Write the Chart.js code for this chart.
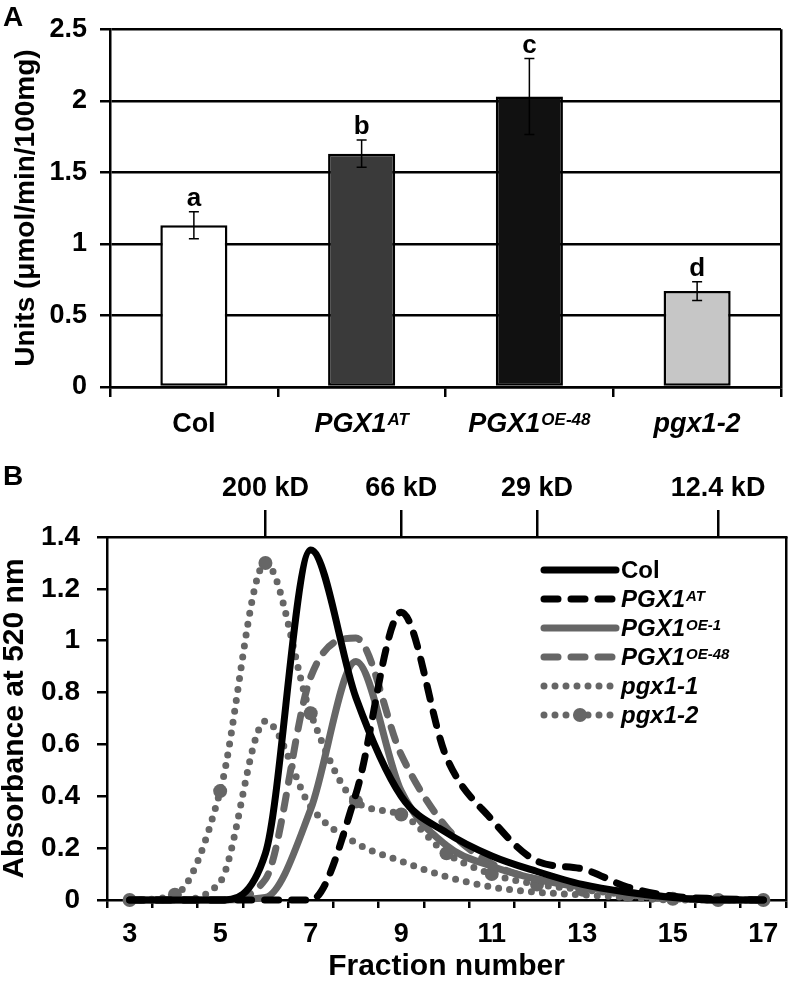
<!DOCTYPE html>
<html lang="en">
<head>
  <meta charset="UTF-8">
  <title>PGX1 activity and gel filtration</title>
  <script src="https://cdn.jsdelivr.net/npm/chart.js@4.4.0/dist/chart.umd.min.js"></script>
  <style>
    body { margin: 0; background: #fff; }
    canvas { position: absolute; left: 0; }
    #barChart { top: 0; }
    #lineChart { top: 450px; }
  </style>
</head>
<body>
  <canvas id="barChart" width="793" height="450"></canvas>
  <canvas id="lineChart" width="793" height="547"></canvas>

  <script>
    // ---- panel A data ----
    const genotypes = ['Col', 'PGX1^AT', 'PGX1^OE-48', 'pgx1-2'];
    const activity = [1.13, 1.63, 2.03, 0.67];
    const activityErr = [0.095, 0.095, 0.265, 0.065];
    const sigLetters = ['a', 'b', 'c', 'd'];
    const barColors = ['#ffffff', '#3a3a3a', '#111111', '#c6c6c6'];

    // ---- panel B data ----
    const fractions = ['3', '4', '5', '6', '7', '8', '9', '10', '11', '12', '13', '14', '15', '16', '17'];
    const kdMarkers = { '6': '200 kD', '9': '66 kD', '12': '29 kD', '16': '12.4 kD' };
    const absCol    = [0, 0, 0, 0.18, 1.35, 0.78, 0.40, 0.26, 0.17, 0.11, 0.06, 0.03, 0.01, 0, 0];
    const absAT     = [0, 0, 0, 0, 0, 0.41, 1.11, 0.55, 0.31, 0.15, 0.12, 0.05, 0.015, 0.005, 0];
    const absOE1    = [0, 0, 0, 0.01, 0.35, 0.92, 0.42, 0.21, 0.13, 0.08, 0.05, 0.03, 0.01, 0, 0];
    const absOE48   = [0, 0, 0, 0.08, 0.86, 1.01, 0.56, 0.28, 0.14, 0.08, 0.05, 0.03, 0.01, 0, 0];
    const absPgx1_1 = [0, 0, 0.07, 0.69, 0.36, 0.22, 0.15, 0.09, 0.05, 0.03, 0.02, 0.01, 0, 0, 0];
    const absPgx1_2 = [0, 0.02, 0.42, 1.30, 0.72, 0.38, 0.33, 0.18, 0.10, 0.06, 0.04, 0.02, 0.005, 0, 0];

    const FONT = '"Liberation Sans", Arial, sans-serif';
    const GRAY = '#666666';
    Chart.defaults.font.family = FONT;
    Chart.defaults.color = '#000';

    // text with optional superscript, "PGX1^AT"
    function drawRich(ctx, text, x, y, size, italic, align) {
      const parts = text.split('^');
      const style = (italic ? 'italic ' : '') + 'bold ';
      const supSize = Math.round(size * 0.62);
      ctx.font = style + size + 'px ' + FONT;
      const wBase = ctx.measureText(parts[0]).width;
      let wSup = 0;
      if (parts[1]) {
        ctx.font = style + supSize + 'px ' + FONT;
        wSup = ctx.measureText(parts[1]).width + 1;
      }
      const x0 = align === 'center' ? x - (wBase + wSup) / 2 : x;
      ctx.textAlign = 'left';
      ctx.textBaseline = 'alphabetic';
      ctx.fillStyle = '#000';
      ctx.font = style + size + 'px ' + FONT;
      ctx.fillText(parts[0], x0, y);
      if (parts[1]) {
        ctx.font = style + supSize + 'px ' + FONT;
        ctx.fillText(parts[1], x0 + wBase + 1, y - 0.716 * (size - supSize));
      }
    }

    const barExtras = {
      id: 'barExtras',
      afterDatasetsDraw(chart) {
        const ctx = chart.ctx;
        const xs = chart.scales.x, ys = chart.scales.y;
        ctx.save();
        genotypes.forEach((g, i) => {
          const x = xs.getPixelForValue(i);
          const top = ys.getPixelForValue(activity[i] + activityErr[i]);
          const bot = ys.getPixelForValue(activity[i] - activityErr[i]);
          ctx.strokeStyle = '#000';
          ctx.lineWidth = 1.5;
          ctx.beginPath();
          ctx.moveTo(x, top); ctx.lineTo(x, bot);
          ctx.moveTo(x - 5, top); ctx.lineTo(x + 5, top);
          ctx.moveTo(x - 5, bot); ctx.lineTo(x + 5, bot);
          ctx.stroke();
          ctx.fillStyle = '#000';
          ctx.font = 'bold 26px ' + FONT;
          ctx.textAlign = 'center';
          ctx.textBaseline = 'alphabetic';
          ctx.fillText(sigLetters[i], x, top - 6);
          drawRich(ctx, g, x, 432, 27, g !== 'Col', 'center');
        });
        ctx.font = 'bold 28px ' + FONT;
        ctx.textAlign = 'left';
        ctx.fillText('A', 3, 26);
        ctx.restore();
      }
    };

    new Chart(document.getElementById('barChart'), {
      type: 'bar',
      data: {
        labels: genotypes,
        datasets: [{
          data: activity,
          backgroundColor: barColors,
          borderColor: '#000',
          borderWidth: 2.5,
          borderSkipped: false,
          categoryPercentage: 1,
          barPercentage: 0.4
        }]
      },
      options: {
        responsive: false,
        animation: false,
        devicePixelRatio: 1,
        layout: { padding: { top: 13, right: 12, left: 0, bottom: 0 } },
        plugins: { legend: { display: false }, tooltip: { enabled: false } },
        scales: {
          x: {
            ticks: { display: false },
            grid: {
              offset: true,
              color: c => c.type === 'scale' ? '#000' : 'rgba(0,0,0,0)',
              tickColor: '#000',
              lineWidth: 2.5,
              tickLength: 10
            },
            border: { color: '#000', width: 2.5 },
            afterFit: s => { s.height = 63; }
          },
          y: {
            min: 0,
            max: 2.5,
            ticks: { stepSize: 0.5, padding: 13, color: '#000', font: { size: 27, weight: 'bold' }, callback: v => String(v) },
            grid: { color: '#000', lineWidth: 2.5, tickLength: 10 },
            border: { color: '#000', width: 2.5 },
            title: {
              display: true,
              text: 'Units (μmol/min/100mg)',
              color: '#000',
              font: { size: 28, weight: 'bold', lineHeight: 1 },
              padding: { top: 12, bottom: 0 }
            },
            afterFit: s => { s.width = 110; }
          }
        }
      },
      plugins: [barExtras]
    });

    const lineExtras = {
      id: 'lineExtras',
      afterDraw(chart) {
        const ctx = chart.ctx;
        const area = chart.chartArea;
        const lx = area.right - 242;
        const ly = area.top + 33;
        ctx.save();
        chart.data.datasets.forEach((ds, i) => {
          const y = ly + i * 29;
          ctx.strokeStyle = ds.borderColor;
          ctx.lineWidth = ds.borderWidth;
          ctx.lineCap = 'round';
          ctx.setLineDash(ds.borderDash || []);
          ctx.beginPath();
          ctx.moveTo(lx, y);
          ctx.lineTo(lx + 72, y);
          ctx.stroke();
          ctx.setLineDash([]);
          if (ds.pointRadius > 0) {
            ctx.fillStyle = ds.pointBackgroundColor;
            ctx.beginPath();
            ctx.arc(lx + 36, y, ds.pointRadius, 0, Math.PI * 2);
            ctx.fill();
          }
          drawRich(ctx, ds.label, lx + 77, y + 8, 24, ds.label !== 'Col', 'left');
        });
        ctx.fillStyle = '#000';
        ctx.font = 'bold 28px ' + FONT;
        ctx.textAlign = 'left';
        ctx.textBaseline = 'alphabetic';
        ctx.fillText('B', 3, 35);
        ctx.restore();
      }
    };

    function series(label, data, color, dash, extra) {
      return Object.assign({
        label, data,
        borderColor: color,
        backgroundColor: color,
        borderWidth: 7,
        borderDash: dash,
        borderCapStyle: 'round',
        borderJoinStyle: 'round',
        pointRadius: 0,
        cubicInterpolationMode: 'monotone',
        fill: false,
        clip: false
      }, extra || {});
    }

    new Chart(document.getElementById('lineChart'), {
      type: 'line',
      data: {
        labels: fractions,
        datasets: [
          series('Col', absCol, '#000', []),
          series('PGX1^AT', absAT, '#000', [14, 13]),
          series('PGX1^OE-1', absOE1, GRAY, []),
          series('PGX1^OE-48', absOE48, GRAY, [14, 13]),
          series('pgx1-1', absPgx1_1, GRAY, [0, 11]),
          series('pgx1-2', absPgx1_2, GRAY, [0, 11], { pointRadius: 7, pointBackgroundColor: GRAY, pointBorderWidth: 0 })
        ]
      },
      options: {
        responsive: false,
        animation: false,
        devicePixelRatio: 1,
        layout: { padding: { top: 0, right: 6, left: 0, bottom: 0 } },
        plugins: { legend: { display: false }, tooltip: { enabled: false } },
        scales: {
          x: {
            offset: true,
            ticks: {
              autoSkip: false, maxRotation: 0, padding: 10,
              font: { size: 27, weight: 'bold' },
              callback: (v, i) => i % 2 === 0 ? fractions[i] : ''
            },
            grid: {
              offset: true,
              color: c => c.type === 'scale' ? '#000' : 'rgba(0,0,0,0)',
              tickColor: '#000',
              lineWidth: 2.5,
              tickLength: 8
            },
            border: { color: '#000', width: 2.5 },
            title: {
              display: true,
              text: 'Fraction number',
              font: { size: 30, weight: 'bold', lineHeight: 1.2 },
              padding: { top: 0, bottom: 12 }
            },
            afterFit: s => { s.height = 97; }
          },
          x2: {
            type: 'category',
            position: 'top',
            offset: true,
            ticks: {
              autoSkip: false, maxRotation: 0, padding: 5,
              font: { size: 27, weight: 'bold' },
              callback: (v, i) => kdMarkers[fractions[i]] || ''
            },
            grid: {
              offset: false,
              drawOnChartArea: false,
              color: c => (c.type === 'tick' && kdMarkers[fractions[c.index]]) ? '#000' : 'rgba(0,0,0,0)',
              lineWidth: 2.5,
              tickLength: 27
            },
            border: { color: '#000', width: 2.5 },
            afterFit: s => { s.height = 87; }
          },
          y: {
            min: 0,
            max: 1.4,
            ticks: { stepSize: 0.2, padding: 17, font: { size: 28, weight: 'bold' }, callback: v => String(+v.toFixed(1)) },
            grid: { drawOnChartArea: false, color: '#000', lineWidth: 2.5, tickLength: 10 },
            border: { color: '#000', width: 2.5 },
            title: {
              display: true,
              text: 'Absorbance at 520 nm',
              font: { size: 30, weight: 'bold', lineHeight: 1 },
              padding: { top: 0, bottom: 0 }
            },
            afterFit: s => { s.width = 107; }
          }
        }
      },
      plugins: [lineExtras]
    });
  </script>
</body>
</html>
